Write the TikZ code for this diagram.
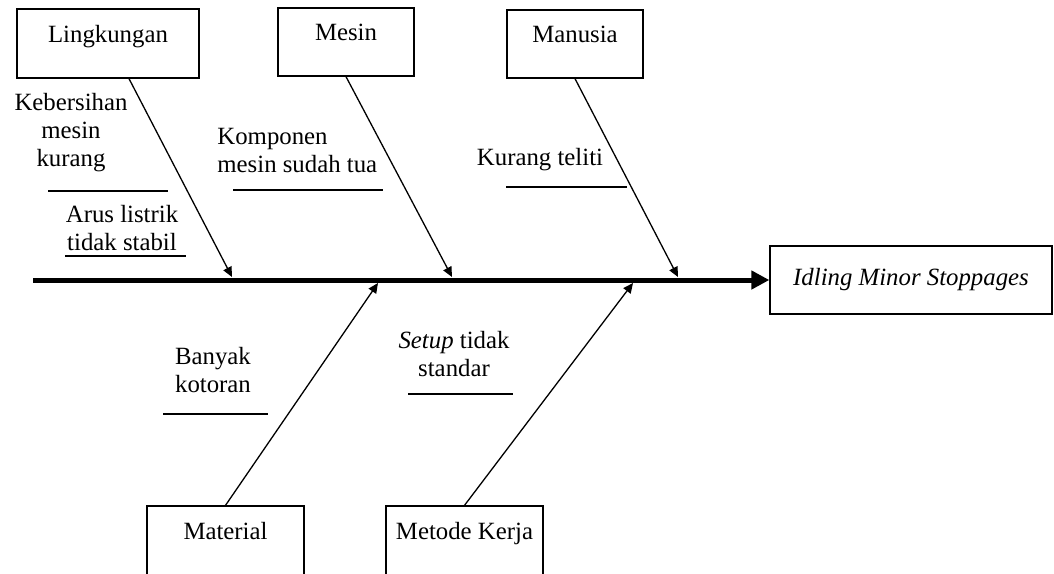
\documentclass[tikz,border=0pt]{standalone}
\usepackage{fontspec}
\setmainfont{Liberation Serif}
\usepackage{tikz}
\usetikzlibrary{arrows.meta, positioning}

\begin{document}
\begin{tikzpicture}[x=0.5pt, y=-0.5pt,
    font=\fontsize{12.4pt}{14pt}\selectfont,
    catbox/.style={draw, line width=0.65pt, inner sep=3pt, text height=9pt, text depth=10.5pt},
    effectbox/.style={draw, line width=0.65pt, minimum width=141pt, minimum height=34pt},
    bone/.style={line width=0.65pt, -{Triangle[length=5pt, width=4.5pt]}},
    rib/.style={line width=0.7pt},
    cause/.style={align=center, inner sep=0pt}]
  \useasboundingbox (0,0) rectangle (1054,573);
  % category boxes
  \node[catbox, minimum width=91pt, minimum height=34.5pt] (ling) at (108,43.5) {Lingkungan};
  \node[catbox, minimum width=68pt, minimum height=34pt] (mesin) at (346,42) {Mesin};
  \node[catbox, minimum width=68pt, minimum height=34pt] (manusia) at (575,44) {Manusia};
  \node[catbox, minimum width=78.5pt, minimum height=35pt] (material) at (225.5,541) {Material};
  \node[catbox, minimum width=78.5pt, minimum height=35pt] (metode) at (464.5,541) {Metode Kerja};
  % effect and spine
  \node[effectbox] (effect) at (911,280) {\itshape Idling Minor Stoppages};
  \coordinate (tail) at (33,280);
  \draw[line width=2.5pt, -{Triangle[length=9pt, width=9pt]}] (tail) -- (effect.west);
  % ---------------- bones ----------------
  \coordinate (tipling) at (232,277);
  \coordinate (tipmesin) at (452,277);
  \coordinate (tipmanusia) at (678,277);
  \coordinate (tipmaterial) at (378,283);
  \coordinate (tipmetode) at (633,283);
  \draw[bone] ([xshift=10.5pt]ling.south) -- (tipling);
  \draw[bone] (mesin.south) -- (tipmesin);
  \draw[bone] (manusia.south) -- (tipmanusia);
  \draw[bone] (material.north) -- (tipmaterial);
  \draw[bone] (metode.north) -- (tipmetode);
  % ---------------- causes ----------------
  \node[cause] (bersih) at (71,133) {Kebersihan\\mesin\\kurang};
  \draw[rib] (48,191) -- (168,191);
  \node[cause] (arus) at (122,228) {Arus listrik\\tidak stabil};
  \draw[rib] (65,256) -- (186,256);
  \node[cause, align=left, anchor=west] (komponen) at (217,150) {Komponen\\mesin sudah tua};
  \draw[rib] (233,190) -- (383,190);
  \node[cause] (teliti) at (540,160) {Kurang teliti};
  \draw[rib] (506,187) -- (627,187);
  \node[cause] (kotoran) at (213,370) {Banyak\\kotoran};
  \draw[rib] (163,414) -- (268,414);
  \node[cause] (setup) at (454,354) {\textit{Setup} tidak\\standar};
  \draw[rib] (408,394) -- (513,394);
\end{tikzpicture}
\end{document}
